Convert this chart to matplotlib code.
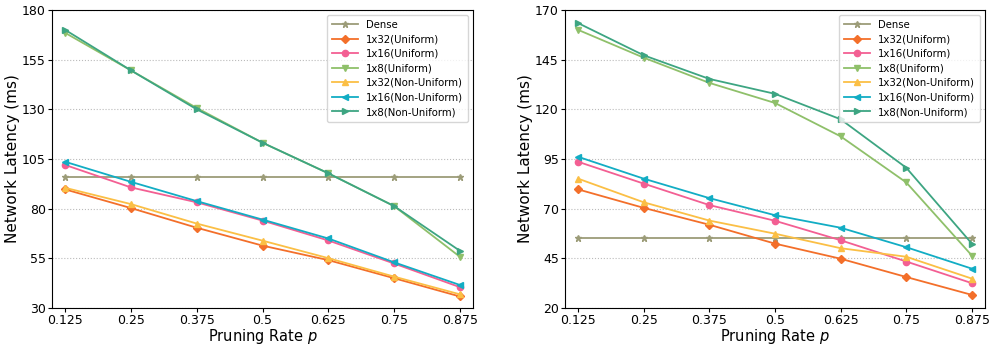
import matplotlib as mpl
mpl.use('Agg')
import matplotlib.pyplot as plt

rates = [0.125, 0.25, 0.375, 0.5, 0.625, 0.75, 0.875]
rate_labels = ['0.125', '0.25', '0.375', '0.5', '0.625', '0.75', '0.875']
names = ['Dense', '1x32(Uniform)', '1x16(Uniform)', '1x8(Uniform)',
         '1x32(Non-Uniform)', '1x16(Non-Uniform)', '1x8(Non-Uniform)']

# left panel
left_dense = [95.8] * 7
left_1x32_u = [89.7, 80.3, 70.4, 61.4, 54.1, 45.0, 35.8]
left_1x16_u = [102.0, 90.7, 83.2, 74.0, 64.0, 52.4, 40.5]
left_1x8_u = [168.5, 149.6, 130.7, 113.2, 97.8, 81.3, 55.8]
left_1x32_nu = [90.5, 82.3, 72.5, 63.9, 55.1, 45.8, 36.9]
left_1x16_nu = [103.6, 93.5, 83.8, 74.5, 65.0, 53.0, 41.6]
left_1x8_nu = [170.0, 149.6, 130.0, 113.2, 97.8, 81.3, 58.8]

# right panel
right_dense = [55.4] * 7
right_1x32_u = [79.7, 70.4, 61.9, 52.4, 44.8, 35.6, 26.6]
right_1x16_u = [93.6, 82.6, 71.8, 63.9, 54.1, 43.4, 32.5]
right_1x8_u = [160.0, 146.0, 133.3, 123.2, 106.4, 83.2, 46.4]
right_1x32_nu = [85.1, 73.2, 64.0, 57.4, 50.1, 45.8, 34.8]
right_1x16_nu = [96.1, 85.1, 75.3, 66.7, 60.4, 50.6, 39.8]
right_1x8_nu = [163.4, 147.2, 135.3, 127.8, 115.0, 90.6, 52.4]

colors = ['#9c9c78', '#f36f2a', '#f35f93', '#8fc06a', '#fbbf45', '#12adc4', '#3da582']
markers = ['*', 'D', 'o', 'v', '^', '<', '>']

fig = plt.figure(figsize=(9.89, 3.45), dpi=100)
ax1 = fig.add_axes([52/989, 37/345, 421/989, 298/345])
ax2 = fig.add_axes([565/989, 37/345, 420/989, 298/345])

def plotpanel(ax, series, ylim, yticks):
    for i, vals in enumerate(series):
        ax.plot(rates, vals, marker=markers[i], color=colors[i], label=names[i],
                linewidth=1.3, markersize=4.5)
    ax.set_xlim(0.1, 0.9)
    ax.set_ylim(ylim)
    ax.set_yticks(yticks)
    ax.set_xticks(rates)
    ax.set_xticklabels(rate_labels)
    ax.tick_params(labelsize=9, length=3, pad=1.5)
    ax.yaxis.grid(True, linestyle=':', color='#bbbbbb', linewidth=0.8)
    ax.set_axisbelow(True)
    ax.set_xlabel('Pruning Rate $p$', fontsize=10.5, labelpad=-0.5)
    ax.set_ylabel('Network Latency (ms)', fontsize=11, labelpad=1)
    ax.legend(loc='upper right', fontsize=7.3, handlelength=2.6, labelspacing=0.45,
              borderpad=0.45, fancybox=True)

plotpanel(ax1, [left_dense, left_1x32_u, left_1x16_u, left_1x8_u,
                left_1x32_nu, left_1x16_nu, left_1x8_nu],
          (30, 180), [30, 55, 80, 105, 130, 155, 180])
plotpanel(ax2, [right_dense, right_1x32_u, right_1x16_u, right_1x8_u,
                right_1x32_nu, right_1x16_nu, right_1x8_nu],
          (20, 170), [20, 45, 70, 95, 120, 145, 170])

fig.savefig('out.png')
